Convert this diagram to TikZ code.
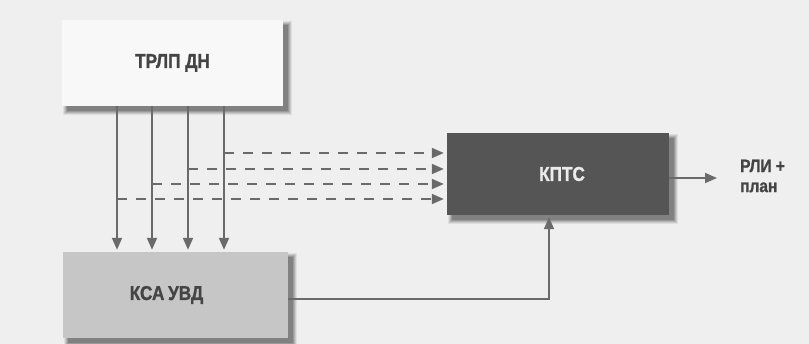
\documentclass[tikz,border=0pt]{standalone}
\usepackage{fontspec}
\setmainfont{Liberation Sans}[FakeStretch=0.86, BoldFeatures={FakeBold=1.2}]
\usetikzlibrary{arrows.meta,backgrounds}
\definecolor{bg}{HTML}{EFEFEF}
\definecolor{linec}{HTML}{6A6A6A}
\definecolor{lightbox}{HTML}{F8F8F8}
\definecolor{midbox}{HTML}{C6C6C6}
\definecolor{darkbox}{HTML}{555555}
\definecolor{txt}{HTML}{444444}
\tikzset{
  boxbase/.style={rectangle, inner sep=0pt, font=\fontsize{20}{24}\selectfont\bfseries},
  lightnode/.style={boxbase, fill=lightbox, text=txt, minimum width=221pt, minimum height=86pt},
  midnode/.style={boxbase, fill=midbox, text=txt, minimum width=225pt, minimum height=86pt},
  darknode/.style={boxbase, fill=darkbox, text=white!92!black, minimum width=222pt, minimum height=82pt},
  conn/.style={draw=linec, line width=1.8pt, -{Triangle[length=12pt,width=10pt]}},
  dconn/.style={conn, dash pattern=on 10pt off 9pt, shorten >=3pt},
  outlabel/.style={align=left, anchor=west, text=txt, inner sep=0pt, font=\fontsize{18}{20}\selectfont\bfseries}
}
\newcommand{\softshadow}[1]{%
  \foreach \e/\o in {4/0.07,3/0.09,2/0.11,1/0.13,0/0.16}{%
    \fill[black, opacity=\o] ([xshift=5pt-\e pt, yshift=-5pt+\e pt]#1.north west) rectangle ([xshift=5pt+\e pt, yshift=-5pt-\e pt]#1.south east);
  }%
}
\begin{document}
\begin{tikzpicture}[x=1pt, y=-1pt]
  \useasboundingbox (0,0) rectangle (809,344);
  \node[lightnode] (t) at (172.5,63) {ТРЛП ДН};
  \node[midnode, text width=225pt, align=center] (k) at (175.5,295) {\hspace*{-18pt}КСА\kern-3pt\ УВД};
  \node[darknode, text width=222pt, align=center] (p) at (558,174) {\hspace*{8pt}КПТС};

  \coordinate (c1) at (117,0);
  \coordinate (c2) at (152,0);
  \coordinate (c3) at (188,0);
  \coordinate (c4) at (224,0);
  \coordinate (r4) at (0,153);
  \coordinate (r3) at (0,169);
  \coordinate (r2) at (0,184);
  \coordinate (r1) at (0,199);
  \coordinate (turn) at (549,299);
  \coordinate (out) at (717,178);

  \begin{scope}[on background layer]
    \fill[bg] (0,0) rectangle (809,344);
    \softshadow{t}
    \softshadow{k}
    \softshadow{p}
  \end{scope}

  \foreach \c in {c1,c2,c3,c4}{
    \draw[conn] (t.south -| \c) -- ([yshift=2pt]k.north -| \c);
  }
  \draw[dconn] (c4 |- r4) -- (p.west |- r4);
  \draw[dconn] (c3 |- r3) -- (p.west |- r3);
  \draw[dconn] (c2 |- r2) -- (p.west |- r2);
  \draw[dconn] (c1 |- r1) -- (p.west |- r1);

  \draw[conn] (k.east |- turn) -- (turn) -- ([yshift=-2pt]p.south -| turn);
  \draw[conn] (p.east |- out) -- (out);
  \node[outlabel] (lbl) at (740,176) {РЛИ +\\план};
\end{tikzpicture}
\end{document}
